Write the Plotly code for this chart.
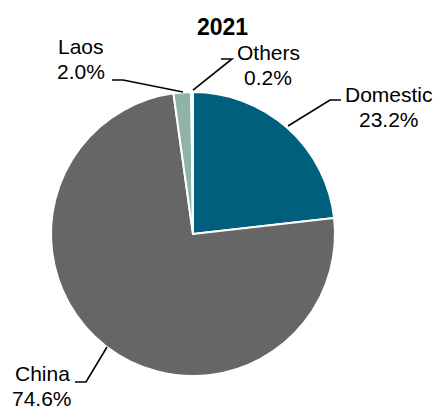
import plotly.graph_objects as go

# Data
categories = ["Domestic", "China", "Laos", "Others"]
shares = [23.2, 74.6, 2.0, 0.2]
colors = ["#005F7D", "#666666", "#8FB3A5", "#F2F2F2"]
title_text = "2021"

W, H = 435, 412
# pie geometry in pixels
cx, cy, r = 193, 234, 142

fig = go.Figure(go.Pie(
    labels=categories,
    values=shares,
    sort=False,
    direction="clockwise",
    rotation=0,
    textinfo="none",
    hoverinfo="label+percent",
    marker=dict(colors=colors, line=dict(color="white", width=2)),
    domain=dict(x=[(cx - r) / W, (cx + r) / W], y=[(H - cy - r) / H, (H - cy + r) / H]),
    showlegend=False,
))

def px(x, y):
    return x / W, 1 - y / H

# label layout: text center x, first-line baseline y, leader polyline (pixels)
label_layout = {
    "Domestic": dict(tx=389, b=103, line=[(288, 126), (330, 100), (341, 100)]),
    "China": dict(tx=42, b=382, line=[(107, 347), (86, 382), (75, 382)]),
    "Laos": dict(tx=81, b=55, line=[(183, 92), (123, 80), (112, 80)]),
    "Others": dict(tx=268, b=61, line=[(193, 90), (232, 59), (221, 59)]),
}
FS = 21
PITCH = 25
ASC = 22  # top-of-box to baseline offset

annotations = []
shapes = []
for cat, val in zip(categories, shares):
    L = label_layout[cat]
    for i, line_text in enumerate([cat, f"{val:.1f}%"]):
        ax, ay = px(L["tx"], L["b"] + i * PITCH - ASC)
        annotations.append(dict(
            x=ax, y=ay, xref="paper", yref="paper", xanchor="center", yanchor="top",
            text=line_text, showarrow=False, align="center",
            font=dict(family="Liberation Sans, Arial", size=FS, color="#000000"),
        ))
    pts = [px(x, y) for x, y in L["line"]]
    path = "M " + " L ".join(f"{x:.5f},{y:.5f}" for x, y in pts)
    shapes.append(dict(type="path", xref="paper", yref="paper", path=path,
                       line=dict(color="#000000", width=1.6)))

annotations.append(dict(
    x=223 / W, y=1 - 12 / H, xref="paper", yref="paper", xanchor="center", yanchor="top",
    text=f"<b>{title_text}</b>", showarrow=False,
    font=dict(family="Liberation Sans, Arial", size=23, color="#000000"),
))

fig.update_layout(
    width=W, height=H,
    margin=dict(l=0, r=0, t=0, b=0),
    paper_bgcolor="white", plot_bgcolor="white",
    annotations=annotations, shapes=shapes,
)

fig.write_html("out.html")
